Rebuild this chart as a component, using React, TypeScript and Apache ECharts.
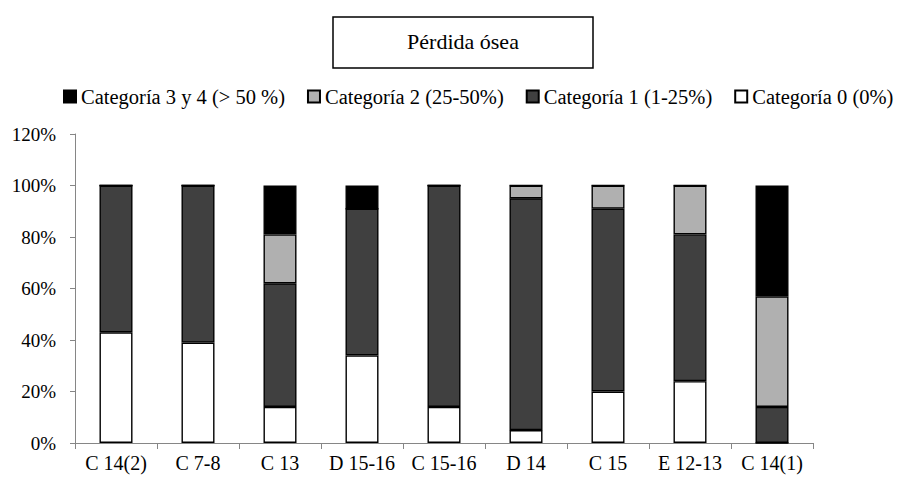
import React, { useEffect, useRef } from "react";
import * as echarts from "echarts";

const categories = ["C 14(2)", "C 7-8", "C 13", "D 15-16", "C 15-16", "D 14", "C 15", "E 12-13", "C 14(1)"];
const cat0 = [43, 39, 14, 34, 14, 5, 20, 24, 0];
const cat1 = [57, 61, 48, 57, 86, 90, 71, 57, 14];
const cat2 = [0, 0, 19, 0, 0, 5, 9, 19, 43];
const cat34 = [0, 0, 19, 9, 0, 0, 0, 0, 43];
const seriesNames = ["Categoría 0 (0%)", "Categoría 1 (1-25%)", "Categoría 2 (25-50%)", "Categoría 3 y 4 (> 50 %)"];
const seriesColors = ["#ffffff", "#404040", "#b0b0b0", "#000000"];
const titleText = "Pérdida ósea";

const FONT = "'Liberation Serif', 'Times New Roman', serif";

export default function App() {
  const ref = useRef<HTMLDivElement>(null);
  useEffect(() => {
    if (!ref.current) return;
    const chart = echarts.init(ref.current, null, { renderer: "svg" });
    const values = [cat0, cat1, cat2, cat34];
    chart.setOption({
      animation: false,
      backgroundColor: "#ffffff",
      textStyle: { fontFamily: FONT },
      graphic: [
        {
          type: "rect",
          shape: { x: 333, y: 17, width: 260, height: 51 },
          style: { fill: "#ffffff", stroke: "#000000", lineWidth: 1.5 },
        },
        {
          type: "text",
          x: 463,
          y: 41,
          style: {
            text: titleText,
            fontFamily: FONT,
            fontSize: 22,
            fill: "#000000",
            align: "center",
            verticalAlign: "middle",
          },
        },
      ],
      legend: {
        left: 63,
        top: 86,
        padding: 0,
        itemWidth: 12,
        itemHeight: 12,
        itemGap: 22,
        icon: "rect",
        data: [seriesNames[3], seriesNames[2], seriesNames[1], seriesNames[0]],
        textStyle: { fontFamily: FONT, fontSize: 20.5, color: "#000000" },
      },
      grid: { left: 75, right: 87, top: 134, bottom: 35, containLabel: false },
      xAxis: {
        type: "category",
        data: categories,
        axisLine: { lineStyle: { color: "#868686", width: 1 } },
        axisTick: { show: true, length: 6, lineStyle: { color: "#868686" } },
        axisLabel: { fontFamily: FONT, fontSize: 20, color: "#000000", margin: 10, interval: 0 },
      },
      yAxis: {
        type: "value",
        min: 0,
        max: 120,
        interval: 20,
        axisLine: { show: true, lineStyle: { color: "#868686", width: 1 } },
        axisTick: { show: true, length: 5, lineStyle: { color: "#868686" } },
        splitLine: { show: false },
        axisLabel: { fontFamily: FONT, fontSize: 19, color: "#000000", formatter: "{value}%", margin: 19 },
      },
      series: values.map((v, i) => ({
        name: seriesNames[i],
        type: "bar",
        stack: "total",
        barWidth: 33,
        data: v,
        itemStyle: { color: seriesColors[i], borderColor: "#000000", borderWidth: 1.4 },
      })),
    });
    return () => chart.dispose();
  }, []);
  return <div ref={ref} style={{ position: "fixed", left: 0, top: 0, width: 900, height: 478 }} />;
}
